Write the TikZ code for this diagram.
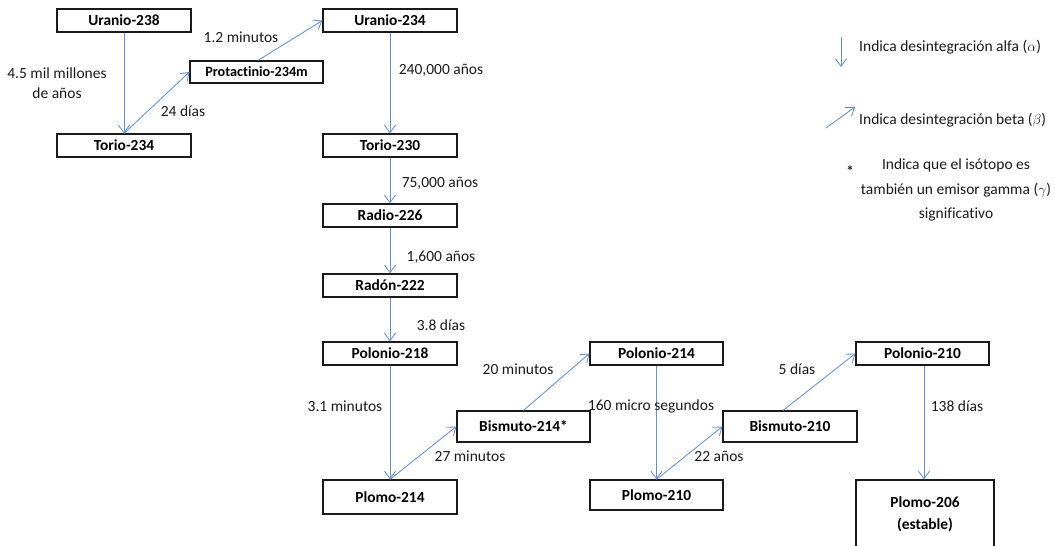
\documentclass[tikz,border=0pt]{standalone}
\usepackage{fontspec}
\setmainfont{Carlito}[Ligatures=NoCommon]
\usetikzlibrary{arrows.meta}
\definecolor{decayblue}{HTML}{6590CC}
\definecolor{ink}{HTML}{1A1A1A}
\begin{document}
\begin{tikzpicture}[x=1pt,y=-1pt,
  iso/.style={draw=ink, line width=1.2pt, fill=white, text=black,
    font=\bfseries\fontsize{15.4}{17}\selectfont, inner sep=0pt,
    minimum width=134pt, minimum height=23pt},
  decay/.style={draw=decayblue, line width=0.85pt,
    -{Straight Barb[length=7.5pt,width=11pt,line width=0.85pt]}},
  lbl/.style={font=\fontsize{15.5}{20}\selectfont, text=ink, inner sep=0pt},
  legend/.style={font=\fontsize{15.5}{24.5}\selectfont, text=ink, inner sep=0pt}]
\clip (0,0) rectangle (1055,546);
\fill[white] (0,0) rectangle (1055,546);

% isotopes of the decay series
\node[iso] (u238)  at (124,20.5)  {Uranio-238};
\node[iso] (th234) at (124,145.5) {Torio-234};
\node[iso, minimum width=133pt, minimum height=22pt] (pa) at (256.5,72) {\fontsize{14.2}{15}\selectfont Protactinio-234m};
\node[iso] (u234)  at (390,20.5)  {Uranio-234};
\node[iso] (th230) at (390,145.5) {Torio-230};
\node[iso] (ra226) at (390,215.5) {Radio-226};
\node[iso] (rn222) at (390,285.5) {Radón-222};
\node[iso] (po218) at (390,353.5) {Polonio-218};
\node[iso, minimum height=34pt] (pb214) at (390,497) {Plomo-214};
\node[iso, minimum width=133pt, minimum height=31pt] (bi214) at (523.5,426.5) {Bismuto-214*};
\node[iso, minimum width=133pt] (po214) at (656.5,353.5) {Polonio-214};
\node[iso, minimum width=133pt, minimum height=30pt] (pb210) at (656.5,495) {Plomo-210};
\node[iso, minimum height=31pt] (bi210) at (790,426.5) {Bismuto-210};
\node[iso, minimum width=133pt] (po210) at (922.5,353.5) {Polonio-210};
\node[iso, minimum width=138pt, minimum height=68pt, align=center,
  font=\bfseries\fontsize{15.4}{22}\selectfont] (pb206) at (925,514) {Plomo-206\\(estable)};

% decay steps
\draw[decay] (u238.south) -- (th234.north);
\draw[decay] (th234.north) -- (pa.west);
\draw[decay] ([xshift=1.5pt]pa.north) -- (u234.west);
\draw[decay] (u234.south) -- (th230.north);
\draw[decay] (th230.south) -- (ra226.north);
\draw[decay] (ra226.south) -- (rn222.north);
\draw[decay] (rn222.south) -- (po218.north);
\draw[decay] (po218.south) -- (pb214.north);
\draw[decay] (pb214.north) -- (bi214.west);
\draw[decay] (bi214.north) -- (po214.west);
\draw[decay] (po214.south) -- (pb210.north);
\draw[decay] (pb210.north) -- (bi210.west);
\draw[decay] ([xshift=-7pt]bi210.north) -- (po210.west);
\draw[decay] ([xshift=1.5pt]po210.south) -- ([xshift=-1pt]pb206.north);

% half-lives
\node[lbl, align=center] (t1)  at (57,83)   {4.5 mil millones\\de años};
\node[lbl] (t2)  at (183,111) {24 días};
\node[lbl] (t3)  at (241,37)  {1.2 minutos};
\node[lbl] (t4)  at (441,70)  {240,000 años};
\node[lbl] (t5)  at (440,183) {75,000 años};
\node[lbl] (t6)  at (441,257) {1,600 años};
\node[lbl] (t7)  at (441,325) {3.8 días};
\node[lbl] (t8)  at (345,406) {3.1 minutos};
\node[lbl] (t9)  at (518,369) {20 minutos};
\node[lbl] (t10) at (470,456) {27 minutos};
\node[lbl] (t11) at (651,406) {160 micro segundos};
\node[lbl] (t12) at (719,456) {22 años};
\node[lbl] (t13) at (797,369) {5 días};
\node[lbl] (t14) at (957,406) {138 días};

% legend
\coordinate (aTop) at (841,37);
\coordinate (aBot) at (841,67);
\draw[decay] (aTop) -- (aBot);
\node[legend, anchor=west] (la) at (859,47) {Indica desintegración alfa ($\alpha$)};
\coordinate (bTail) at (826,128);
\coordinate (bHead) at (855,107);
\draw[decay] (bTail) -- (bHead);
\node[legend, anchor=west] (lb) at (859,120) {Indica desintegración beta ($\beta$)};
\node[legend, font=\bfseries\fontsize{15}{16}\selectfont] (star) at (850,171) {*};
\node[legend, align=center] (lg) at (956,190) {Indica que el isótopo es\\también un emisor gamma ($\gamma$)\\significativo};
\end{tikzpicture}
\end{document}
